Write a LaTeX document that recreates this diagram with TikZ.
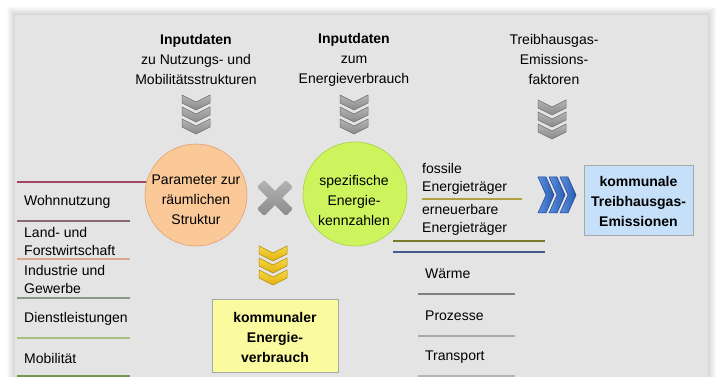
\documentclass[tikz,border=0pt]{standalone}
\usepackage{fontspec}
\setmainfont{Liberation Sans}
\definecolor{panel}{HTML}{E4E4E4}
\definecolor{orfill}{HTML}{FBC898}
\definecolor{ordraw}{HTML}{E0A070}
\definecolor{grfill}{HTML}{CDF35D}
\definecolor{grdraw}{HTML}{A8D040}
\definecolor{ylbox}{HTML}{FAFA9E}
\definecolor{blbox}{HTML}{C6E0FA}
\definecolor{chgrayA}{HTML}{B4B4B4}
\definecolor{chgrayB}{HTML}{8A8A8A}
\definecolor{chgrayD}{HTML}{707070}
\definecolor{chyelA}{HTML}{F8D840}
\definecolor{chyelB}{HTML}{E0B010}
\definecolor{chyelD}{HTML}{B08A10}
\definecolor{chbluA}{HTML}{5A90E0}
\definecolor{chbluB}{HTML}{2A5AB0}
\definecolor{chbluD}{HTML}{1A4090}
\definecolor{lnA}{HTML}{A04860}
\definecolor{lnB}{HTML}{8A6878}
\definecolor{lnC}{HTML}{D8A888}
\definecolor{lnD}{HTML}{8A9A80}
\definecolor{lnE}{HTML}{A8C080}
\definecolor{lnF}{HTML}{709850}
\definecolor{lnG}{HTML}{B0A040}
\definecolor{lnH}{HTML}{7A7A2A}
\definecolor{lnI}{HTML}{4A5A90}
\definecolor{lnJ}{HTML}{808080}
\definecolor{lnK}{HTML}{A8A8A8}
\definecolor{lnL}{HTML}{B4B4B4}
\tikzset{
  txt/.style={inner sep=0pt, align=center, font=\fontsize{14}{20}\selectfont},
  ltxt/.style={inner sep=0pt, anchor=west, align=left, font=\fontsize{14}{18}\selectfont},
  btxt/.style={inner sep=0pt, align=center, font=\bfseries\fontsize{14}{20}\selectfont},
  sep/.style={line width=1.4pt},
  chevd/.pic={
    \foreach \k in {2,1,0}{
      \path[pic actions] (-14,\k*12) -- (0,\k*12+7) -- (14,\k*12) -- (14,\k*12+8) -- (0,\k*12+15) -- (-14,\k*12+8) -- cycle;
    }
  },
  chevr/.pic={
    \foreach \k in {0,1,2}{
      \path[pic actions] (\k*11,-18) -- (\k*11+8,0) -- (\k*11,18) -- (\k*11+8,18) -- (\k*11+16,0) -- (\k*11+8,-18) -- cycle;
    }
  },
  crossx/.pic={
    \path[pic actions, rotate=45, rounded corners=1.5pt] (-20.5,-5) rectangle (20.5,5);
    \path[pic actions, rotate=-45, rounded corners=1.5pt] (-20.5,-5) rectangle (20.5,5);
  },
  graychev/.style={top color=chgrayA, bottom color=chgrayB, draw=chgrayD, line width=0.5pt},
  yelchev/.style={top color=chyelA, bottom color=chyelB, draw=chyelD, line width=0.5pt},
  bluchev/.style={left color=chbluA, right color=chbluB, draw=chbluD, line width=0.5pt},
}
\begin{document}
\begin{tikzpicture}[x=1pt,y=-1pt]
\useasboundingbox (0,0) rectangle (721,377);
\fill[white] (0,0) rectangle (721,377);
% panel with soft shadow
\foreach \i in {1,...,8}{
  \fill[black, opacity=0.018] (15-\i,15-\i) rectangle (708+\i,390);
}
\fill[panel] (15,15) rectangle (708,390);

% top texts
\node[txt] (in1) at (196,59.5) {\textbf{Inputdaten}\\zu Nutzungs- und\\Mobilitätsstrukturen};
\node[txt] (in2) at (354,59.5) {\textbf{Inputdaten}\\zum\\Energieverbrauch};
\node[txt] (in3) at (554,59.5) {Treibhausgas-\\Emissions-\\faktoren};

% gray chevrons
\pic[graychev] (ch1) at (196,95) {chevd};
\pic[graychev] (ch2) at (354,95) {chevd};
\pic[graychev] (ch3) at (552,100) {chevd};

% left separator lines
\draw[sep, lnA] (17,182) -- (170,182);
\draw[sep, lnB] (17,221) -- (130,221);
\draw[sep, lnC] (17,259) -- (130,259);
\draw[sep, lnD] (17,298) -- (130,298);
\draw[sep, lnE] (17,338) -- (130,338);
\draw[sep, lnF] (17,376) -- (130,376);

% circles
\node[circle, minimum size=102pt, inner sep=0pt, fill=orfill, draw=ordraw, line width=0.6pt] (param) at (196,195) {};
\node[txt] (paramt) at (196,200) {Parameter zur\\räumlichen\\Struktur};
\node[circle, minimum size=104pt, inner sep=0pt, fill=grfill, draw=grdraw, line width=0.6pt] (kenn) at (355,194) {};
\node[txt] (kennt) at (354,200) {spezifische\\Energie-\\kennzahlen};

% cross
\pic[top color=chgrayA, bottom color=chgrayB] (mult) at (275,198) {crossx};

% yellow chevrons and box
\pic[yelchev] (ch4) at (273,246) {chevd};
\node[draw=lnK, line width=0.6pt, fill=ylbox, minimum width=126pt, minimum height=73pt, inner sep=0pt] (ener) at (275,335.5) {};
\node[btxt] (enert) at (275,337) {kommunaler\\Energie-\\verbrauch};

% left list
\node[ltxt] (w1) at (24,202) {Wohnnutzung};
\node[ltxt] (w2) at (24,241) {Land- und\\Forstwirtschaft};
\node[ltxt] (w3) at (24,279.5) {Industrie und\\Gewerbe};
\node[ltxt] (w4) at (24,319) {Dienstleistungen};
\node[ltxt] (w5) at (24,358) {Mobilität};

% right list
\node[ltxt] (e1) at (422,178.5) {fossile\\Energieträger};
\draw[sep, lnG] (422,199) -- (522,199);
\node[ltxt] (e2) at (422,219.5) {erneuerbare\\Energieträger};
\draw[sep, lnH] (393,241) -- (545,241);
\draw[sep, lnI] (393,252) -- (545,252);
\node[ltxt] (s1) at (425,274) {Wärme};
\draw[sep, lnJ] (418,294) -- (515,294);
\node[ltxt] (s2) at (425,316) {Prozesse};
\draw[sep, lnK] (418,336) -- (515,336);
\node[ltxt] (s3) at (425,357) {Transport};
\draw[sep, lnL] (418,376) -- (515,376);

% blue chevrons and box
\pic[bluchev] (ch5) at (538,195) {chevr};
\node[draw=lnK, line width=0.6pt, fill=blbox, minimum width=109pt, minimum height=70pt, inner sep=0pt] (emis) at (638.5,200) {};
\node[btxt] (emist) at (638.5,201.5) {kommunale\\Treibhausgas-\\Emissionen};
\end{tikzpicture}
\end{document}
